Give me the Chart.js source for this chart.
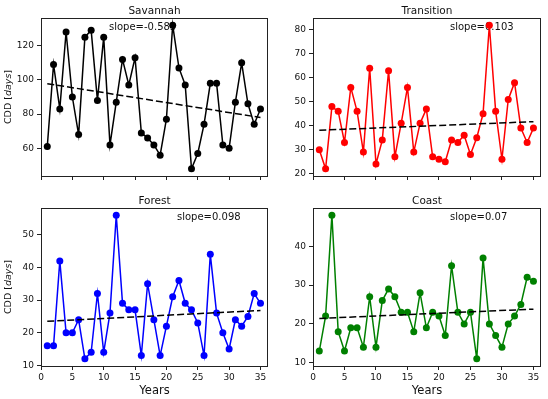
<!DOCTYPE html>
<html><head><meta charset="utf-8">
<script src="https://cdn.jsdelivr.net/npm/chart.js@4/dist/chart.umd.min.js"></script>
<style>
html,body{margin:0;padding:0;background:#fff;}
#wrap{position:relative;width:548px;height:399px;overflow:hidden;background:#fff;}
canvas{position:absolute;}
</style></head><body>
<div id="wrap">
<canvas id="c0"></canvas><canvas id="c1"></canvas><canvas id="c2"></canvas><canvas id="c3"></canvas>
</div>
<script>
// ---- data ----
const years = [1,2,3,4,5,6,7,8,9,10,11,12,13,14,15,16,17,18,19,20,21,22,23,24,25,26,27,28,29,30,31,32,33,34,35];
const savannah = [61,109,83,128,90,68,125,129,88,125,62,87,112,97,113,69,66,62,56,77,132,107,97,48,57,74,98,98,62,60,87,110,86,74,83];
const transition = [30,22,48,46,33,56,46,29,64,24,34,63,27,41,56,29,41,47,27,26,25,34,33,36,28,35,45,82,46,26,51,58,39,33,39];
const forest = [16,16,42,20,20,24,12,14,32,14,26,56,29,27,27,13,35,24,13,22,31,36,29,27,23,13,44,26,20,15,24,22,25,32,29];
const coast = [13,22,48,18,13,19,19,14,27,14,26,29,27,23,23,18,28,19,23,22,17,35,23,20,23,11,37,20,17,14,20,22,25,32,31];
const titles = ['Savannah','Transition','Forest','Coast'];
const slopeLabels = ['slope=-0.583','slope=0.103','slope=0.098','slope=0.07'];
const trendYears = [1, 35];
const trendSavannah = [97.8, 78.0];
const trendTransition = [38.1, 41.7];
const trendForest = [23.5, 26.8];
const trendCoast = [21.4, 23.8];
const xTickValues = [0,5,10,15,20,25,30,35];
const yTicksSavannah = [60,80,100,120];
const yTicksTransition = [20,30,40,50,60,70,80];
const yTicksForest = [10,20,30,40,50];
const yTicksCoast = [10,20,30,40];

// ---- layout ----
const seriesList = [savannah, transition, forest, coast];
const trendList = [trendSavannah, trendTransition, trendForest, trendCoast];
const yTickList = [yTicksSavannah, yTicksTransition, yTicksForest, yTicksCoast];
const colors = ['#000000','#ff0000','#0000ff','#008000'];
const panels = [
  {canvas:[0,0,274,195],   area:[41,18,268,176],  bottom:false, left:true,  slopeDx:68},
  {canvas:[274,0,274,195], area:[313,18,541,176], bottom:false, left:false, slopeDx:137},
  {canvas:[0,195,274,204], area:[41,208,268,366], bottom:true,  left:true,  slopeDx:136},
  {canvas:[274,195,274,204],area:[313,208,541,366],bottom:true, left:false, slopeDx:137}
];
const FONT = "'DejaVu Sans', sans-serif";
const TXT = '#111';

panels.forEach((p, i) => {
  const [cx, cy, cw, ch] = p.canvas;
  const [L, T, R, B] = p.area;
  const cv = document.getElementById('c' + i);
  cv.width = cw; cv.height = ch;
  cv.style.left = cx + 'px'; cv.style.top = cy + 'px';
  cv.style.width = cw + 'px'; cv.style.height = ch + 'px';
  const vals = seriesList[i];
  const vmin = Math.min(...vals), vmax = Math.max(...vals);
  const m = (vmax - vmin) * 0.05;
  const yt = yTickList[i];

  const deco = {
    id: 'deco' + i,
    beforeDatasetsDraw(chart) {
      const ctx = chart.ctx, a = chart.chartArea;
      ctx.save();
      ctx.fillStyle = TXT;
      ctx.font = "10px " + FONT;
      ctx.textBaseline = 'alphabetic';
      ctx.textAlign = 'left';
      ctx.fillText(slopeLabels[i], a.left + p.slopeDx, a.top + 11.5);
      ctx.restore();
    },
    afterDraw(chart) {
      const ctx = chart.ctx, a = chart.chartArea;
      ctx.save();
      ctx.strokeStyle = '#222';
      ctx.lineWidth = 1;
      ctx.strokeRect(Math.round(a.left) + 0.5, Math.round(a.top) + 0.5,
                     Math.round(a.right - a.left) - 1, Math.round(a.bottom - a.top));
      ctx.fillStyle = TXT;
      ctx.textAlign = 'center';
      ctx.textBaseline = 'alphabetic';
      ctx.font = "10.5px " + FONT;
      ctx.fillText(titles[i], (a.left + a.right) / 2, a.top - 4.5);
      if (p.bottom) {
        ctx.font = "11.5px " + FONT;
        ctx.fillText('Years', (a.left + a.right) / 2, chart.height - 5);
      }
      if (p.left) {
        const parts = [['CDD [', "9.5px " + FONT], ['days', "italic 9.5px " + FONT], [']', "9.5px " + FONT]];
        let total = 0;
        parts.forEach(pt => { ctx.font = pt[1]; total += ctx.measureText(pt[0]).width; });
        ctx.translate(10.5, (a.top + a.bottom) / 2);
        ctx.rotate(-Math.PI / 2);
        ctx.textAlign = 'left';
        let x = -total / 2;
        parts.forEach(pt => { ctx.font = pt[1]; ctx.fillText(pt[0], x, 0); x += ctx.measureText(pt[0]).width; });
      }
      ctx.restore();
    }
  };

  new Chart(cv, {
    type: 'line',
    data: {
      datasets: [
        {
          data: years.map((y, k) => ({x: y, y: vals[k]})),
          borderColor: colors[i], backgroundColor: colors[i],
          borderWidth: 1.5, pointRadius: 3.5, pointBorderWidth: 0,
          pointBackgroundColor: colors[i], tension: 0, order: 2
        },
        {
          data: trendYears.map((y, k) => ({x: y, y: trendList[i][k]})),
          borderColor: '#000', borderWidth: 1.5, borderDash: [7, 3],
          pointRadius: 0, tension: 0, order: 1
        }
      ]
    },
    options: {
      responsive: false, animation: false, devicePixelRatio: 1,
      layout: {padding: {top: T - cy, left: 0, right: cx + cw - R, bottom: 0}},
      plugins: {legend: {display: false}, tooltip: {enabled: false}, title: {display: false}},
      scales: {
        x: {
          type: 'linear', min: 0, max: 36.2,
          afterBuildTicks: s => { s.ticks = xTickValues.map(v => ({value: v})); },
          afterFit: s => { s.height = cy + ch - B; },
          ticks: {
            font: {family: FONT, size: 9}, color: TXT, padding: 2,
            maxRotation: 0, autoSkip: false,
            callback: v => p.bottom ? String(v) : ''
          },
          grid: {drawOnChartArea: false, drawTicks: true, tickLength: 4, color: '#222', lineWidth: 1},
          border: {display: false}
        },
        y: {
          type: 'linear', min: vmin - m, max: vmax + m,
          afterBuildTicks: s => { s.ticks = yt.map(v => ({value: v})); },
          afterFit: s => { s.width = L - cx; },
          ticks: {font: {family: FONT, size: 9}, color: TXT, padding: 3, autoSkip: false},
          grid: {drawOnChartArea: false, drawTicks: true, tickLength: 4, color: '#222', lineWidth: 1},
          border: {display: false}
        }
      }
    },
    plugins: [deco]
  });
});
</script>
</body></html>
